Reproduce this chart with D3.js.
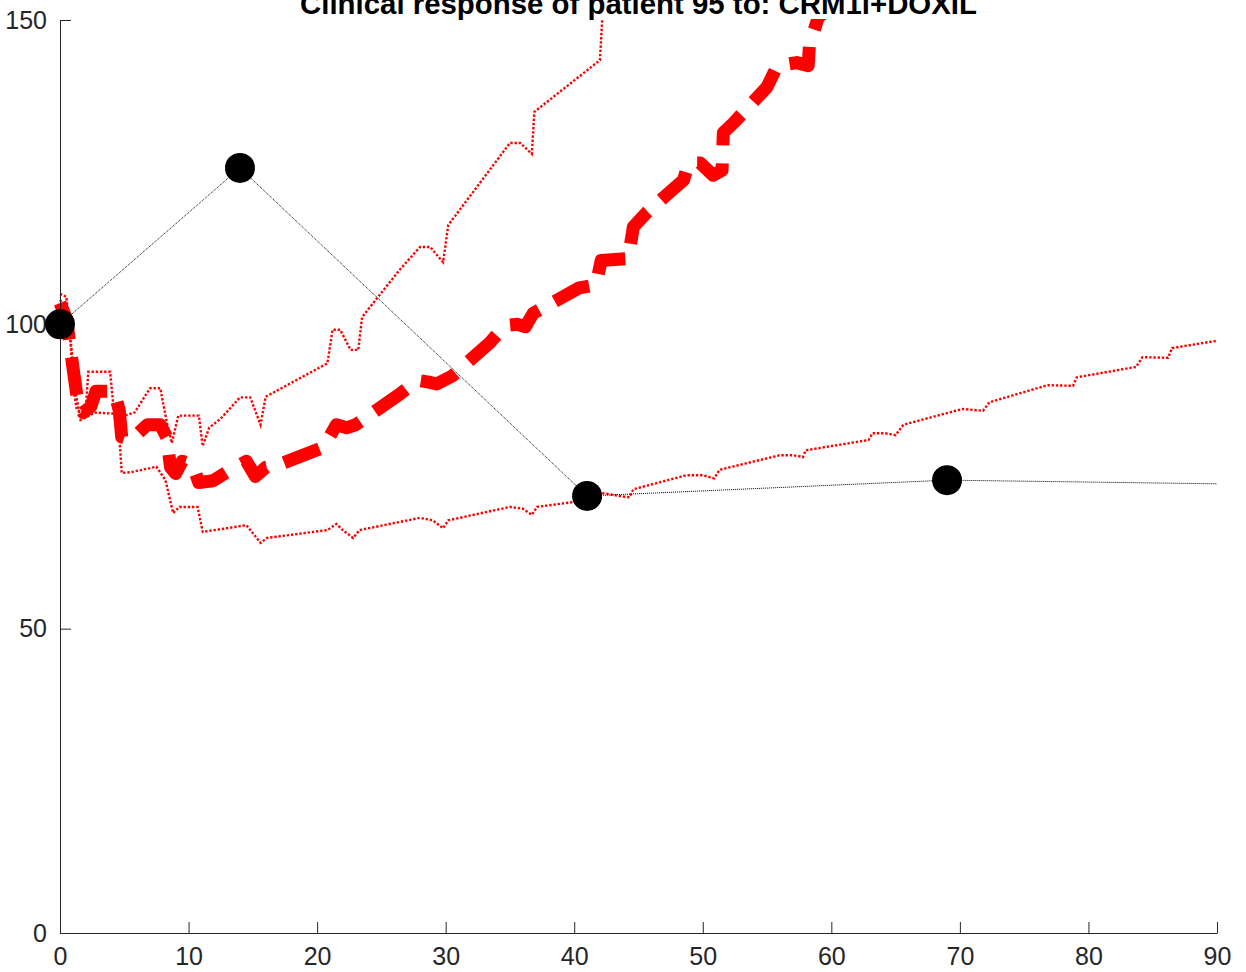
<!DOCTYPE html>
<html>
<head>
<meta charset="utf-8">
<script src="https://cdn.jsdelivr.net/npm/d3@7"></script>
<style>
  html, body { margin: 0; padding: 0; background: #fff; }
  svg { display: block; }
  text { font-family: "Liberation Sans", Arial, Helvetica, sans-serif; }
</style>
</head>
<body>
<div id="chart"></div>
<script>
// ---- Data ----
const titleText = "Clinical response of patient 95 to: CRM1i+DOXIL";
const xTicks = [0, 10, 20, 30, 40, 50, 60, 70, 80, 90];
const yTicks = [0, 50, 100, 150];

// observed tumour volume (black markers)
const observedDays = [0, 14, 41, 69];
const observedVol  = [100, 125.7, 71.8, 74.4];
// black dotted connecting line (continues to day 90)
const observedLineDays = [0, 14, 41, 69, 90];
const observedLineVol  = [100, 125.7, 71.8, 74.4, 73.8];

// median simulated response (thick red dashed)
const medianPoints = [
  [0,103.5],[0.5,101],[1.0,93],[1.4,87],[1.8,85.5],[2.4,86.5],[2.8,89],[4.2,89],[4.6,86],[4.8,81.5],
  [5.5,81],[6.8,83.5],[7.8,83.5],[8.3,81.5],[8.6,76.5],[9.0,75.5],[9.5,77.5],[10.3,77],[10.8,74],[11.9,74.3],
  [13.2,76],[14.5,77.5],[15.2,75],[16.0,76.5],[17.1,77],[20.5,79.8],[21.5,83.5],[22.3,83],[23.0,83.5],[26.4,88.5],
  [27.8,90.8],[28.7,90.5],[29.3,90.2],[30.5,91.5],[33.4,96.9],[34.6,99.8],[35.6,100],[36.2,99.6],[36.8,101.8],[40.4,106],
  [41.7,106.5],[42.1,110.5],[44.2,110.8],[44.6,116],[45.7,118.5],[48.5,123.7],[48.9,126.5],[49.8,126.5],[50.8,124.5],[51.5,125.3],
  [51.6,131.5],[52.4,133.1],[55.0,139],[55.8,142.5],[57.3,143],[58.2,142.5],[58.3,146],[59.0,150.5],[60.0,152]
];

// upper bound (thin red dotted)
const upperPoints = [
  [0,105],[0.5,104.5],[0.8,98],[1.0,90],[1.3,86],[1.6,85.5],[2.0,86],[2.2,92.2],[3.9,92.2],[4.2,85.5],
  [5.0,85],[5.8,85.5],[7.0,89.5],[7.8,89.5],[8.3,84],[8.7,80.5],[9.2,85],[10.8,85],[11.1,80],[11.6,83],
  [12.5,84.5],[14.0,88],[14.8,88],[15.6,83.5],[16.0,88.1],[20.8,93.6],[21.2,99.1],[21.8,99.1],[22.6,95.8],[23.2,95.8],
  [23.5,101.2],[26.4,108.9],[28,112.7],[28.8,112.7],[29.8,110.2],[30.2,116.3],[35,129.8],[35.8,129.8],[36.7,128],[36.9,134.9],
  [42,143.4],[42.2,151]
];

// lower bound (thin red dotted)
const lowerPoints = [
  [0,104],[0.4,103],[0.9,96],[1.2,89],[1.6,84.3],[2.1,84.8],[2.7,85.5],[4.5,85.3],[4.8,75.6],[5.5,75.7],
  [7.5,76.6],[8.2,74.4],[8.8,69],[9.3,70],[10.7,70],[11.1,65.9],[14.5,67],[15.6,64.1],[16.1,64.9],[20.8,66.2],
  [21.5,67.2],[22,66.2],[22.8,64.9],[23.3,66.2],[28,68.2],[29,67.8],[29.8,66.5],[30.2,67.8],[35,70],[36,69.7],
  [36.7,68.7],[37.1,70],[39.9,70.8],[42.1,72.3],[43.8,71.7],[44.3,71.6],[44.6,72.9],[48.7,75.2],[50,75.2],[50.9,74.7],
  [51.3,76.1],[56,78.5],[57,78.5],[57.8,78.2],[58,79.3],[62.9,81],[63.2,82.1],[64.2,82.1],[65,81.8],[65.6,83.5],
  [70.2,86.1],[71.8,85.8],[72.3,87.2],[76.8,90],[78.8,89.9],[79.1,91.3],[83.7,93],[84.2,94.6],[86.2,94.5],[86.5,96.1],
  [90,97.3]
];

// ---- Layout ----
const W = 1246, H = 972;
const mLeft = 60, mRight = 1217, mTop = 20, mBottom = 933;
const axisColor = "#262626";

const svg = d3.select("#chart").append("svg")
  .attr("width", W).attr("height", H);

const x = d3.scaleLinear().domain([0, 90]).range([mLeft, mRight]);
const y = d3.scaleLinear().domain([0, 150]).range([mBottom, mTop]);

svg.append("defs").append("clipPath").attr("id", "plotClip")
  .append("rect").attr("x", 0).attr("y", mTop - 1).attr("width", W).attr("height", mBottom - mTop + 40);

const line = d3.line().x(d => x(d[0])).y(d => y(d[1]));

const plot = svg.append("g").attr("clip-path", "url(#plotClip)");

// red dotted bounds
[upperPoints, lowerPoints].forEach(pts => {
  plot.append("path").datum(pts)
    .attr("d", line)
    .attr("fill", "none")
    .attr("stroke", "#ff0000")
    .attr("stroke-width", 2.4)
    .attr("stroke-dasharray", "2.4,1.8");
});

// median thick dashed
plot.append("path").datum(medianPoints)
  .attr("d", line)
  .attr("fill", "none")
  .attr("stroke", "#ff0000")
  .attr("stroke-width", 13)
  .attr("stroke-linejoin", "round")
  .attr("stroke-linecap", "butt")
  .attr("stroke-dasharray", "38,18");

// black dotted observed line
const obsLine = observedLineDays.map((d, i) => [d, observedLineVol[i]]);
plot.append("path").datum(obsLine)
  .attr("d", line)
  .attr("fill", "none")
  .attr("stroke", "#000")
  .attr("stroke-width", 1)
  .attr("stroke-dasharray", "1,1");

// axes
const xAxis = d3.axisBottom(x).tickValues(xTicks).tickSizeInner(-11).tickSizeOuter(0).tickPadding(14);
const yAxis = d3.axisLeft(y).tickValues(yTicks).tickSizeInner(-11).tickSizeOuter(0).tickPadding(13);

const gx = svg.append("g").attr("transform", `translate(0,${mBottom})`).call(xAxis);
const gy = svg.append("g").attr("transform", `translate(${mLeft},0)`).call(yAxis);
[gx, gy].forEach(g => {
  g.select(".domain").attr("stroke", axisColor).attr("stroke-width", 1);
  g.selectAll(".tick line").attr("stroke", axisColor).attr("stroke-width", 1);
  g.selectAll(".tick text").attr("fill", axisColor)
    .style("font-size", "25px")
    .style("font-family", '"Liberation Sans", Arial, Helvetica, sans-serif');
});

// markers
svg.append("g").selectAll("circle")
  .data(observedDays.map((d, i) => [d, observedVol[i]]))
  .join("circle")
  .attr("cx", d => x(d[0]))
  .attr("cy", d => y(d[1]))
  .attr("r", 15)
  .attr("fill", "#000");

// title (partly above the top edge, as in the reference)
svg.append("text")
  .attr("x", (mLeft + mRight) / 2)
  .attr("y", 14)
  .attr("text-anchor", "middle")
  .attr("font-weight", "bold")
  .attr("font-size", 29.4)
  .attr("fill", "#000")
  .text(titleText);
</script>
</body>
</html>
